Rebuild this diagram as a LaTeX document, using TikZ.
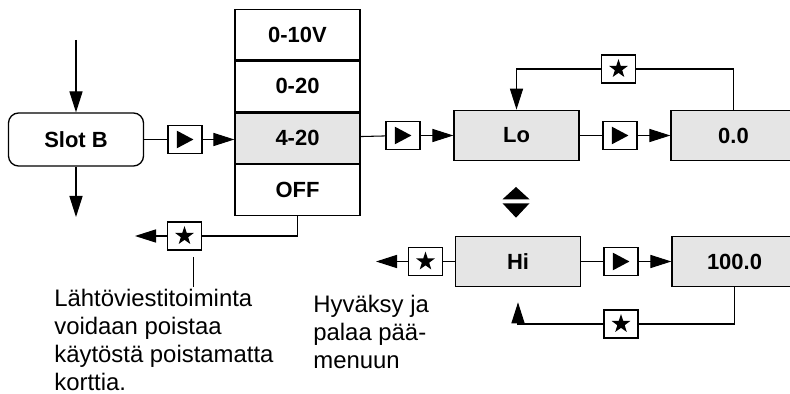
\documentclass[tikz,border=0pt]{standalone}
\usepackage{fontspec}
\setmainfont{Liberation Sans}
\usetikzlibrary{arrows.meta, positioning}
\tikzstyle{arrow} = [line width=0.6pt, -{Triangle[length=12pt,width=7.5pt]}]
\tikzstyle{link} = [line width=0.6pt]
\tikzstyle{pointer} = [line width=0.4pt]
\tikzstyle{cell} = [rectangle, draw=black, line width=0.75pt, minimum width=2.5cm, minimum height=1.01cm, inner sep=0pt, font=\bfseries\fontsize{12.5}{14}\selectfont]
\tikzstyle{value} = [cell, fill=gray!20]
\tikzstyle{keybox} = [rectangle, draw=black, line width=0.65pt, fill=white, minimum width=0.68cm, minimum height=0.56cm, inner sep=0pt]
\tikzstyle{playkey} = [keybox, path picture={\fill[black] ([xshift=-4.6pt,yshift=-5pt]path picture bounding box.center) -- ++(0,10pt) -- ++(9.4pt,-5pt) -- cycle;}]
\tikzstyle{starkey} = [keybox, path picture={\fill[black, shift={(path picture bounding box.center)}] (90:5.6pt) \foreach \i in {1,...,9} {-- ({90+36*\i}:{3.9pt+1.7pt*cos(180*\i)})} -- cycle;}]
\tikzstyle{note} = [align=left, inner sep=0pt, font=\fontsize{13.6}{15.9}\selectfont]

\begin{document}
\begin{tikzpicture}[x=0.02cm, y=-0.02cm]
\clip (0,0) rectangle (790,394);

\node (slot) [cell, rounded corners=5.7pt, minimum width=2.7cm, minimum height=1.06cm] at (76,139.5) {Slot B};

% range column
\node (v10) [cell] at (297.5,34.5) {0-10V};
\node (a020) [cell, below=0pt of v10] {0-20};
\node (a420) [value, below=0pt of a020] {4-20};
\node (off) [cell, below=0pt of a420] {OFF};

\node (play1) [playkey] at (185,139.5) {};
\node (play2) [playkey] at (403,135.5) {};
\node (lo) [value] at (516.5,135.5) {Lo};
\node (play3) [playkey] at (620,135.5) {};
\node (zero) [value] at (733.5,135.5) {0.0};
\node (star1) [starkey] at (618.5,69) {};

\node (offstar) [starkey] at (184.5,236) {};
\node (histar) [starkey] at (425.5,261.5) {};
\node (hi) [value] at (518,261.5) {Hi};
\node (play4) [playkey] at (621,261.5) {};
\node (hundred) [value] at (734.5,261.5) {100.0};
\node (star2) [starkey] at (621,324) {};

\coordinate (in) at (76,40);
\coordinate (out) at (76,217);
\coordinate (offexit) at (135,236);
\coordinate (hiexit) at (376,261.5);
\coordinate (notetop) at (193,257);
\coordinate (notebot) at (193,287);
\coordinate (updown) at (516,202);

\draw [arrow] (in) -- (slot);
\draw [arrow] (slot) -- (out);
\draw [link] (slot) -- (play1);
\draw [arrow] (play1) -- (play1 -| a420.west);
\draw [link] (a420) -- (play2);
\draw [arrow] (play2) -- (lo);
\draw [link] (lo) -- (play3);
\draw [arrow] (play3) -- (zero);
\draw [link] (zero.north) |- (star1);
\draw [arrow] (star1) -| (lo.north);

\draw [link] (off.south) |- (offstar);
\draw [arrow] (offstar) -- (offexit);
\draw [pointer] (notetop) -- (notebot);

\draw [link] (hi) -- (histar);
\draw [arrow] (histar) -- (hiexit);
\draw [link] (hi) -- (play4);
\draw [arrow] (play4) -- (hundred);
\draw [link] (hundred.south) |- (star2);
\draw [arrow, shorten >=8.5pt] (star2) -| (hi.south);

% up/down key
\fill (updown) ++(0,-15) -- ++(13.5,12.3) -- ++(-27,0) -- cycle;
\fill (updown) ++(-13.5,1.3) -- ++(27,0) -- ++(-13.5,14.4) -- cycle;

% base anchor sits on the last line
\node (offnote) [note, anchor=base west] at (54,390) {Lähtöviestitoiminta\\voidaan poistaa\\käytöstä poistamatta\\korttia.};
\node (hinote) [note, anchor=base west] at (313,368) {Hyväksy ja\\palaa pää-\\menuun};

\end{tikzpicture}
\end{document}
